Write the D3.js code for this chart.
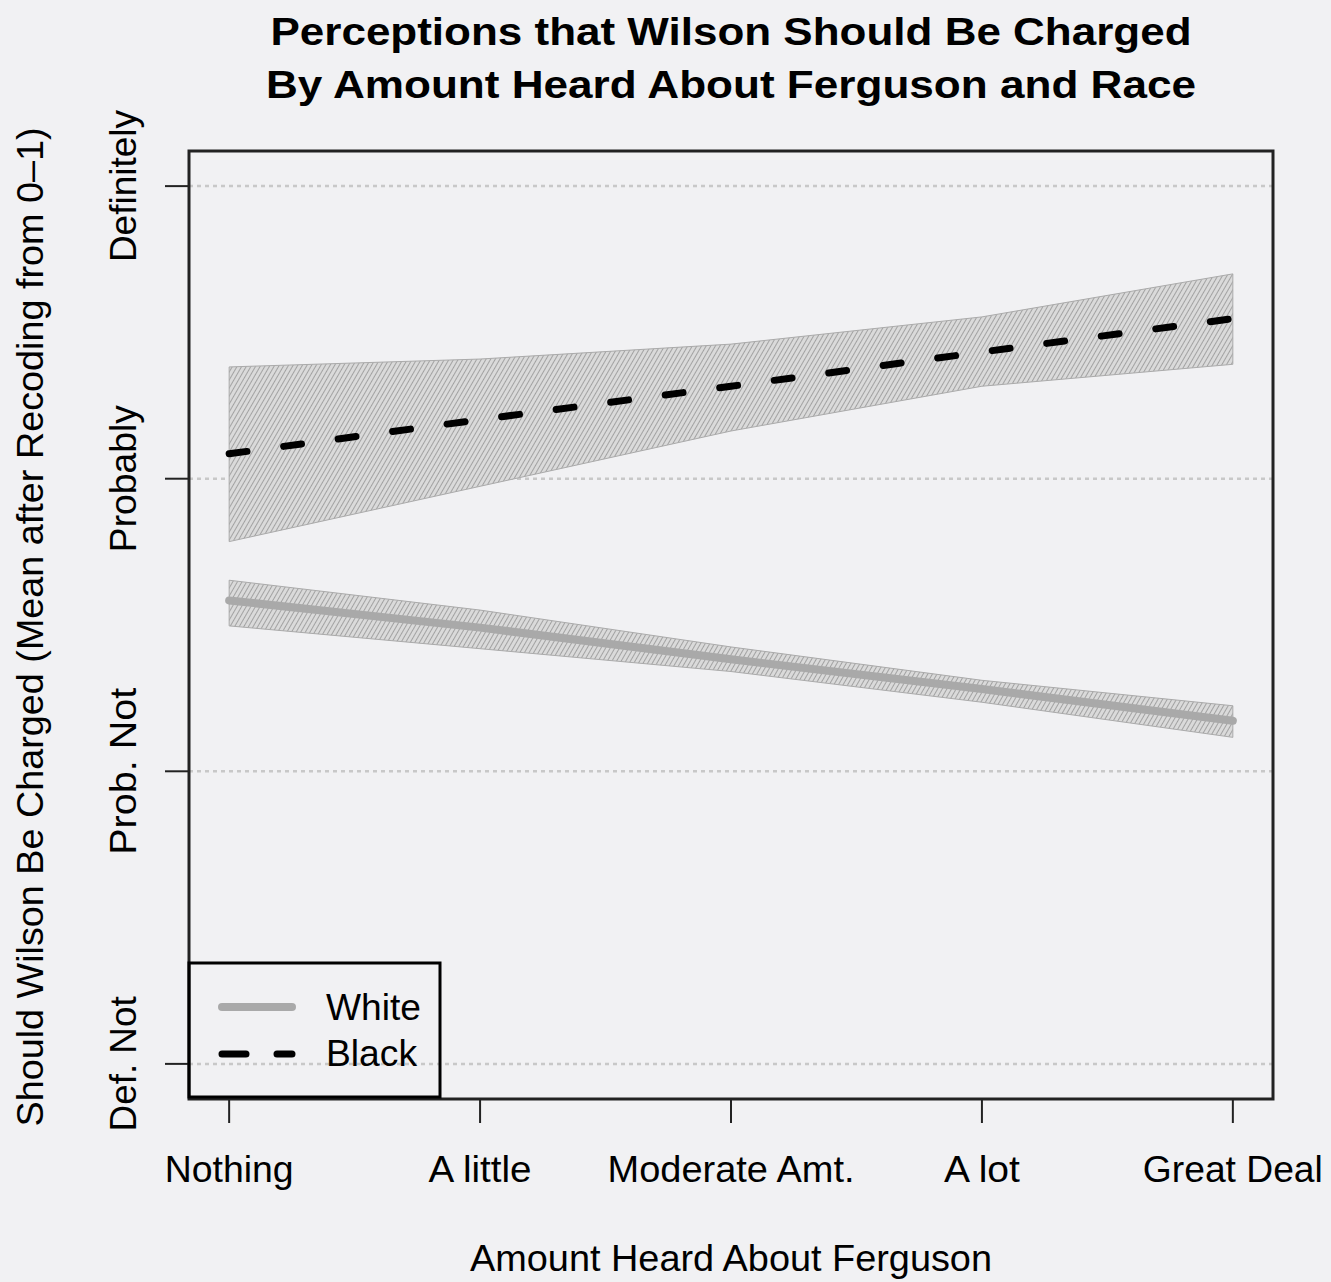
<!DOCTYPE html>
<html>
<head>
<meta charset="utf-8">
<title>Perceptions that Wilson Should Be Charged</title>
<script src="https://cdn.jsdelivr.net/npm/d3@7"></script>
<style>
  body { margin: 0; background: #f1f1f3; }
  svg { display: block; font-family: "Liberation Sans", Arial, Helvetica, sans-serif; }
</style>
</head>
<body>
<div id="chart"></div>
<script>
// values (0 = Def. Not, 1 = Definitely)
var categories = ["Nothing", "A little", "Moderate Amt.", "A lot", "Great Deal"];
var yTickValues = [0, 1/3, 2/3, 1];
var yTickLabels = ["Def. Not", "Prob. Not", "Probably", "Definitely"];

var whiteMean  = [0.528, 0.497, 0.461, 0.427, 0.391];
var whiteLower = [0.499, 0.473, 0.447, 0.412, 0.372];
var whiteUpper = [0.551, 0.517, 0.475, 0.437, 0.408];

var blackMean  = [0.695, 0.734, 0.772, 0.811, 0.849];
var blackLower = [0.595, 0.658, 0.721, 0.772, 0.797];
var blackUpper = [0.794, 0.803, 0.820, 0.851, 0.900];

var titleLines = ["Perceptions that Wilson Should Be Charged",
                  "By Amount Heard About Ferguson and Race"];
var xTitle = "Amount Heard About Ferguson";
var yTitle = "Should Wilson Be Charged (Mean after Recoding from 0\u20131)";
var legendLabels = ["White", "Black"];

(function drawChart(){
  var width = 1331, height = 1282;
  var plot = {left: 189, right: 1273, top: 151, bottom: 1099};

  var svg = d3.select("#chart").append("svg")
    .attr("width", width)
    .attr("height", height);

  svg.append("rect").attr("width", width).attr("height", height).attr("fill", "#f1f1f3");

  // hatched fill like the R polygon shading
  var defs = svg.append("defs");
  var pat = defs.append("pattern")
    .attr("id", "hatch")
    .attr("patternUnits", "userSpaceOnUse")
    .attr("width", 4).attr("height", 4)
    .attr("patternTransform", "rotate(30)");
  pat.append("rect").attr("width", 4).attr("height", 4).attr("fill", "#dadada");
  pat.append("line").attr("x1", 0).attr("y1", 0).attr("x2", 0).attr("y2", 4)
    .attr("stroke", "#9c9c9c").attr("stroke-width", 1.8);

  // R pads each axis by 4%
  var x = d3.scaleLinear().domain([-0.16, 4.16]).range([plot.left, plot.right]);
  var y = d3.scaleLinear().domain([-0.04, 1.04]).range([plot.bottom, plot.top]);

  // dotted reference lines
  svg.append("g").selectAll("line").data(yTickValues).join("line")
    .attr("x1", plot.left).attr("x2", plot.right)
    .attr("y1", d => y(d)).attr("y2", d => y(d))
    .attr("stroke", "#c8c8c8").attr("stroke-width", 2.5)
    .attr("stroke-dasharray", "4,4");

  function bandData(lower, upper){
    return categories.map((c, i) => ({i: i, lo: lower[i], hi: upper[i]}));
  }
  var area = d3.area()
    .x(d => x(d.i))
    .y0(d => y(d.lo))
    .y1(d => y(d.hi));

  svg.append("path").datum(bandData(blackLower, blackUpper))
    .attr("d", area).attr("fill", "url(#hatch)")
    .attr("stroke", "#aaa").attr("stroke-width", 1);
  svg.append("path").datum(bandData(whiteLower, whiteUpper))
    .attr("d", area).attr("fill", "url(#hatch)")
    .attr("stroke", "#aaa").attr("stroke-width", 1);

  var line = d3.line().x((d, i) => x(i)).y(d => y(d));

  svg.append("path").datum(whiteMean)
    .attr("d", line).attr("fill", "none")
    .attr("stroke", "#a9a9a9").attr("stroke-width", 8)
    .attr("stroke-linecap", "round");
  svg.append("path").datum(blackMean)
    .attr("d", line).attr("fill", "none")
    .attr("stroke", "#000").attr("stroke-width", 7)
    .attr("stroke-linecap", "round")
    .attr("stroke-dasharray", "18,37");

  // box
  svg.append("rect")
    .attr("x", plot.left).attr("y", plot.top)
    .attr("width", plot.right - plot.left).attr("height", plot.bottom - plot.top)
    .attr("fill", "none").attr("stroke", "#222").attr("stroke-width", 3);

  // x axis
  var xLen = [129, 103, 247, 76, 180];
  var xg = svg.append("g");
  xg.selectAll("line").data(categories).join("line")
    .attr("x1", (d, i) => x(i)).attr("x2", (d, i) => x(i))
    .attr("y1", plot.bottom).attr("y2", plot.bottom + 24)
    .attr("stroke", "#222").attr("stroke-width", 2);
  xg.selectAll("text").data(categories).join("text")
    .attr("x", (d, i) => x(i)).attr("y", 1182)
    .attr("text-anchor", "middle")
    .attr("font-size", 36)
    .attr("textLength", (d, i) => xLen[i])
    .attr("lengthAdjust", "spacingAndGlyphs")
    .text(d => d);

  // y axis
  var yLen = [135, 167, 147, 152];
  var yg = svg.append("g");
  yg.selectAll("line").data(yTickValues).join("line")
    .attr("x1", plot.left - 24).attr("x2", plot.left)
    .attr("y1", d => y(d)).attr("y2", d => y(d))
    .attr("stroke", "#222").attr("stroke-width", 2);
  yg.selectAll("text").data(yTickValues).join("text")
    .attr("transform", d => "translate(136," + y(d) + ") rotate(-90)")
    .attr("text-anchor", "middle")
    .attr("font-size", 36)
    .attr("textLength", (d, i) => yLen[i])
    .attr("lengthAdjust", "spacingAndGlyphs")
    .text((d, i) => yTickLabels[i]);

  // titles
  svg.append("text")
    .attr("x", 731).attr("y", 1271)
    .attr("text-anchor", "middle").attr("font-size", 36)
    .attr("textLength", 522).attr("lengthAdjust", "spacingAndGlyphs")
    .text(xTitle);
  svg.append("text")
    .attr("transform", "translate(43,627) rotate(-90)")
    .attr("text-anchor", "middle").attr("font-size", 36)
    .attr("textLength", 999).attr("lengthAdjust", "spacingAndGlyphs")
    .text(yTitle);

  var tLen = [921, 930];
  svg.append("g").selectAll("text").data(titleLines).join("text")
    .attr("x", 731).attr("y", (d, i) => 45 + i * 53)
    .attr("text-anchor", "middle")
    .attr("font-size", 39).attr("font-weight", "bold")
    .attr("textLength", (d, i) => tLen[i])
    .attr("lengthAdjust", "spacingAndGlyphs")
    .text(d => d);

  // legend
  var lg = svg.append("g");
  lg.append("rect")
    .attr("x", 189).attr("y", 963).attr("width", 251).attr("height", 134)
    .attr("fill", "none").attr("stroke", "#000").attr("stroke-width", 3);
  lg.append("line").attr("x1", 222).attr("x2", 292).attr("y1", 1007).attr("y2", 1007)
    .attr("stroke", "#a9a9a9").attr("stroke-width", 8).attr("stroke-linecap", "round");
  lg.append("line").attr("x1", 222).attr("x2", 292).attr("y1", 1054).attr("y2", 1054)
    .attr("stroke", "#000").attr("stroke-width", 7).attr("stroke-linecap", "round")
    .attr("stroke-dasharray", "24,31");
  var legLen = [95, 91];
  lg.selectAll("text").data(legendLabels).join("text")
    .attr("x", 326).attr("y", (d, i) => 1020 + i * 46)
    .attr("font-size", 36)
    .attr("textLength", (d, i) => legLen[i])
    .attr("lengthAdjust", "spacingAndGlyphs")
    .text(d => d);
})();
</script>
</body>
</html>
